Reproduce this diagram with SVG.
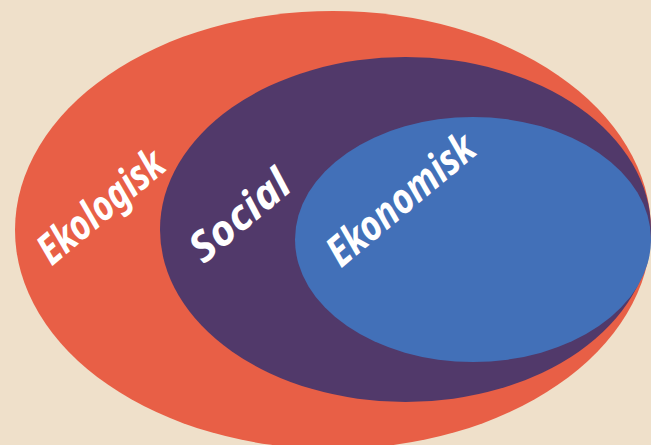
<svg xmlns="http://www.w3.org/2000/svg" width="651" height="445" viewBox="0 0 651 445">
<style>
.lbl{font-family:"Noto Sans","DejaVu Sans",sans-serif;font-weight:700;font-style:italic;fill:#ffffff;text-anchor:middle}
</style>
<rect width="651" height="445" fill="#EFE0CA"/>
<g id="ekologisk">
<ellipse cx="333" cy="230" rx="318" ry="219" fill="#E85F46"/>
<text class="lbl" font-size="42" transform="translate(101,207) rotate(-40)" y="14" textLength="152" lengthAdjust="spacingAndGlyphs">Ekologisk</text>
</g>
<g id="social">
<ellipse cx="405.5" cy="229.5" rx="245.5" ry="172.5" fill="#51396A"/>
<text class="lbl" font-size="42" transform="translate(240,216) rotate(-40)" y="14" textLength="118" lengthAdjust="spacingAndGlyphs">Social</text>
</g>
<g id="ekonomisk">
<ellipse cx="473" cy="239.5" rx="178" ry="122.5" fill="#4270B8"/>
<text class="lbl" font-size="42" transform="translate(401,200) rotate(-40)" y="14" textLength="180" lengthAdjust="spacingAndGlyphs">Ekonomisk</text>
</g>
<g id="connectors"/>
</svg>
